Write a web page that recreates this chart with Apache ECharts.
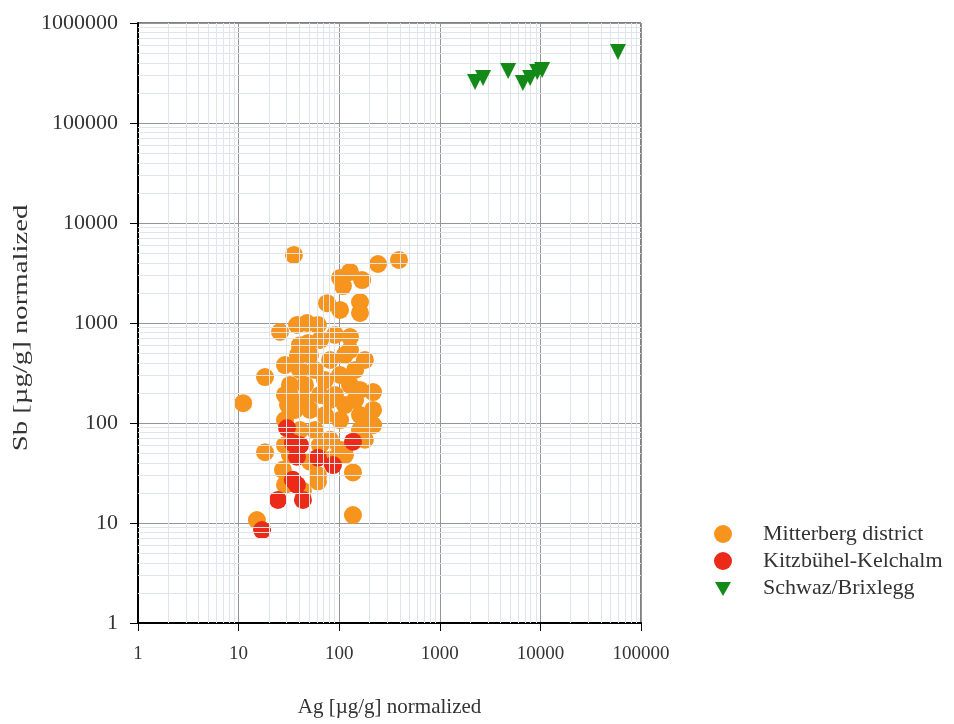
<!DOCTYPE html>
<html>
<head>
<meta charset="utf-8">
<script src="https://cdn.jsdelivr.net/npm/echarts@6/dist/echarts.min.js"></script>
<style>
html,body{margin:0;padding:0;background:#fff;}
#chart{width:954px;height:724px;}
</style>
</head>
<body>
<div id="chart"></div>
<script>
// Mitterberg district (Ag, Sb)
var mitAg = [35.5,243,393,128,102,169,109,75.7,102,161,161,25.8,38.1,47.9,61.5,49,90.8,128,128,64.4,
  18.3,11.1,217,217,32.4,32.4,31,40.7,45.7,51.3,57.4,64.4,72.3,81.1,90.8,102,114,114,128,144,144,161,
  36.4,51.3,72.3,102,161,45.7,81.1,180,217,28.9,40.7,57.4,81.1,102,64.4,18.3,27.6,61.5,137,51.3,32.4,
  28.9,61.5,43.6,15.2,137,114,81.1,28.9,161,180,28.9,38.9,40.7,28.9];
var mitSb = [4790,3890,4270,3240,2820,2690,2340,1580,1350,1620,1260,813,955,1000,955,631,759,724,537,676,
  288,158,135,204,240,191,151,339,240,479,339,191,269,427,191,302,479,151,240,339,170,214,
  135,135,120,107,120,170,170,427,95,107,85,85,68,54,60,51,34,30,32,41,48,
  24,26,21,10.7,12,48,43,60,85,68,380,479,600,191];
// Kitzbühel-Kelchalm
var kitAg = [17.1,24.6,43.6,38,34.6,30.3,34.7,38,40.7,61.5,86.7,137];
var kitSb = [8.5,17,17,24,27,89,63,46,60,45,38,65];
// Schwaz/Brixlegg
var schAg = [2240,2690,4780,6700,7900,9300,10400,59000];
var schSb = [257000,282000,331000,251000,282000,324000,339000,513000];

var seriesNames = ['Mitterberg district','Kitzbühel-Kelchalm','Schwaz/Brixlegg'];
var xName = 'Ag [µg/g] normalized';
var yName = 'Sb [µg/g] normalized';

function pairs(a,b){return a.map(function(v,i){return [v,b[i]];});}

var minorX = [], minorY = [];
for (var e=0;e<5;e++) for (var k=2;k<10;k++) minorX.push({xAxis:k*Math.pow(10,e)});
for (var e2=0;e2<6;e2++) for (var k2=2;k2<10;k2++) minorY.push({yAxis:k2*Math.pow(10,e2)});

var downTri = 'path://M1,3L17,3L9,17ZM0,0L0,0.01L0.01,0ZM18,18L18,17.99L17.99,18Z';
var font = 'Liberation Serif, Times New Roman, serif';
var chart = echarts.init(document.getElementById('chart'), null, {renderer:'canvas'});
chart.setOption({
  animation:false,
  backgroundColor:'#fff',
  grid:{left:138,top:23,width:503,height:600,show:true,borderColor:'#000',borderWidth:1,backgroundColor:'transparent'},
  legend:{
    orient:'vertical', left:709, top:518,
    data:[{name:seriesNames[0],icon:'circle'},{name:seriesNames[1],icon:'circle'},{name:seriesNames[2],icon:downTri}],
    itemWidth:18, itemHeight:18, itemGap:5,
    textStyle:{fontFamily:font,fontSize:22,color:'#333',padding:[0,0,0,26]}
  },
  graphic:[{
    type:'text', x:21, y:328, rotation:Math.PI/2, scaleX:1.37,
    style:{text:yName, font:'21px Liberation Serif, serif', fill:'#333', align:'center', verticalAlign:'middle'}
  }],
  xAxis:{
    type:'log', logBase:10, min:1, max:100000,
    name:xName, nameLocation:'middle', nameGap:74,
    nameTextStyle:{fontFamily:font,fontSize:21,color:'#333'},
    axisLine:{lineStyle:{color:'#000',width:2}},
    axisTick:{show:true,length:8,lineStyle:{color:'#000'}},
    axisLabel:{fontFamily:font,fontSize:19,color:'#333',margin:22,formatter:function(v){return String(Math.round(v));}},
    splitLine:{show:true,lineStyle:{color:'#959595',width:1}}
  },
  yAxis:{
    type:'log', logBase:10, min:1, max:1000000,
    axisLine:{lineStyle:{color:'#000',width:2}},
    axisTick:{show:true,length:8,lineStyle:{color:'#000'}},
    axisLabel:{fontFamily:font,fontSize:22,color:'#333',margin:20,formatter:function(v){return String(Math.round(v));}},
    splitLine:{show:true,lineStyle:{color:'#959595',width:1}}
  },
  series:[
    {name:'minor', type:'scatter', data:[], z:1, silent:true,
      markLine:{silent:true, symbol:'none', label:{show:false}, animation:false,
        lineStyle:{color:'#dfe5ec',width:1,type:'solid'}, emphasis:{disabled:true},
        data:minorX.concat(minorY)}},
    {name:seriesNames[0], type:'scatter', z:3, symbol:'circle', symbolSize:18,
      itemStyle:{color:'#F7941D',opacity:1}, data:pairs(mitAg,mitSb)},
    {name:seriesNames[1], type:'scatter', z:4, symbol:'circle', symbolSize:18,
      itemStyle:{color:'#EB2A17',opacity:1}, data:pairs(kitAg,kitSb)},
    {name:seriesNames[2], type:'scatter', z:5, symbol:'triangle', symbolRotate:180, symbolSize:16,
      itemStyle:{color:'#138A18',opacity:1}, data:pairs(schAg,schSb)}
  ]
});
</script>
</body>
</html>
